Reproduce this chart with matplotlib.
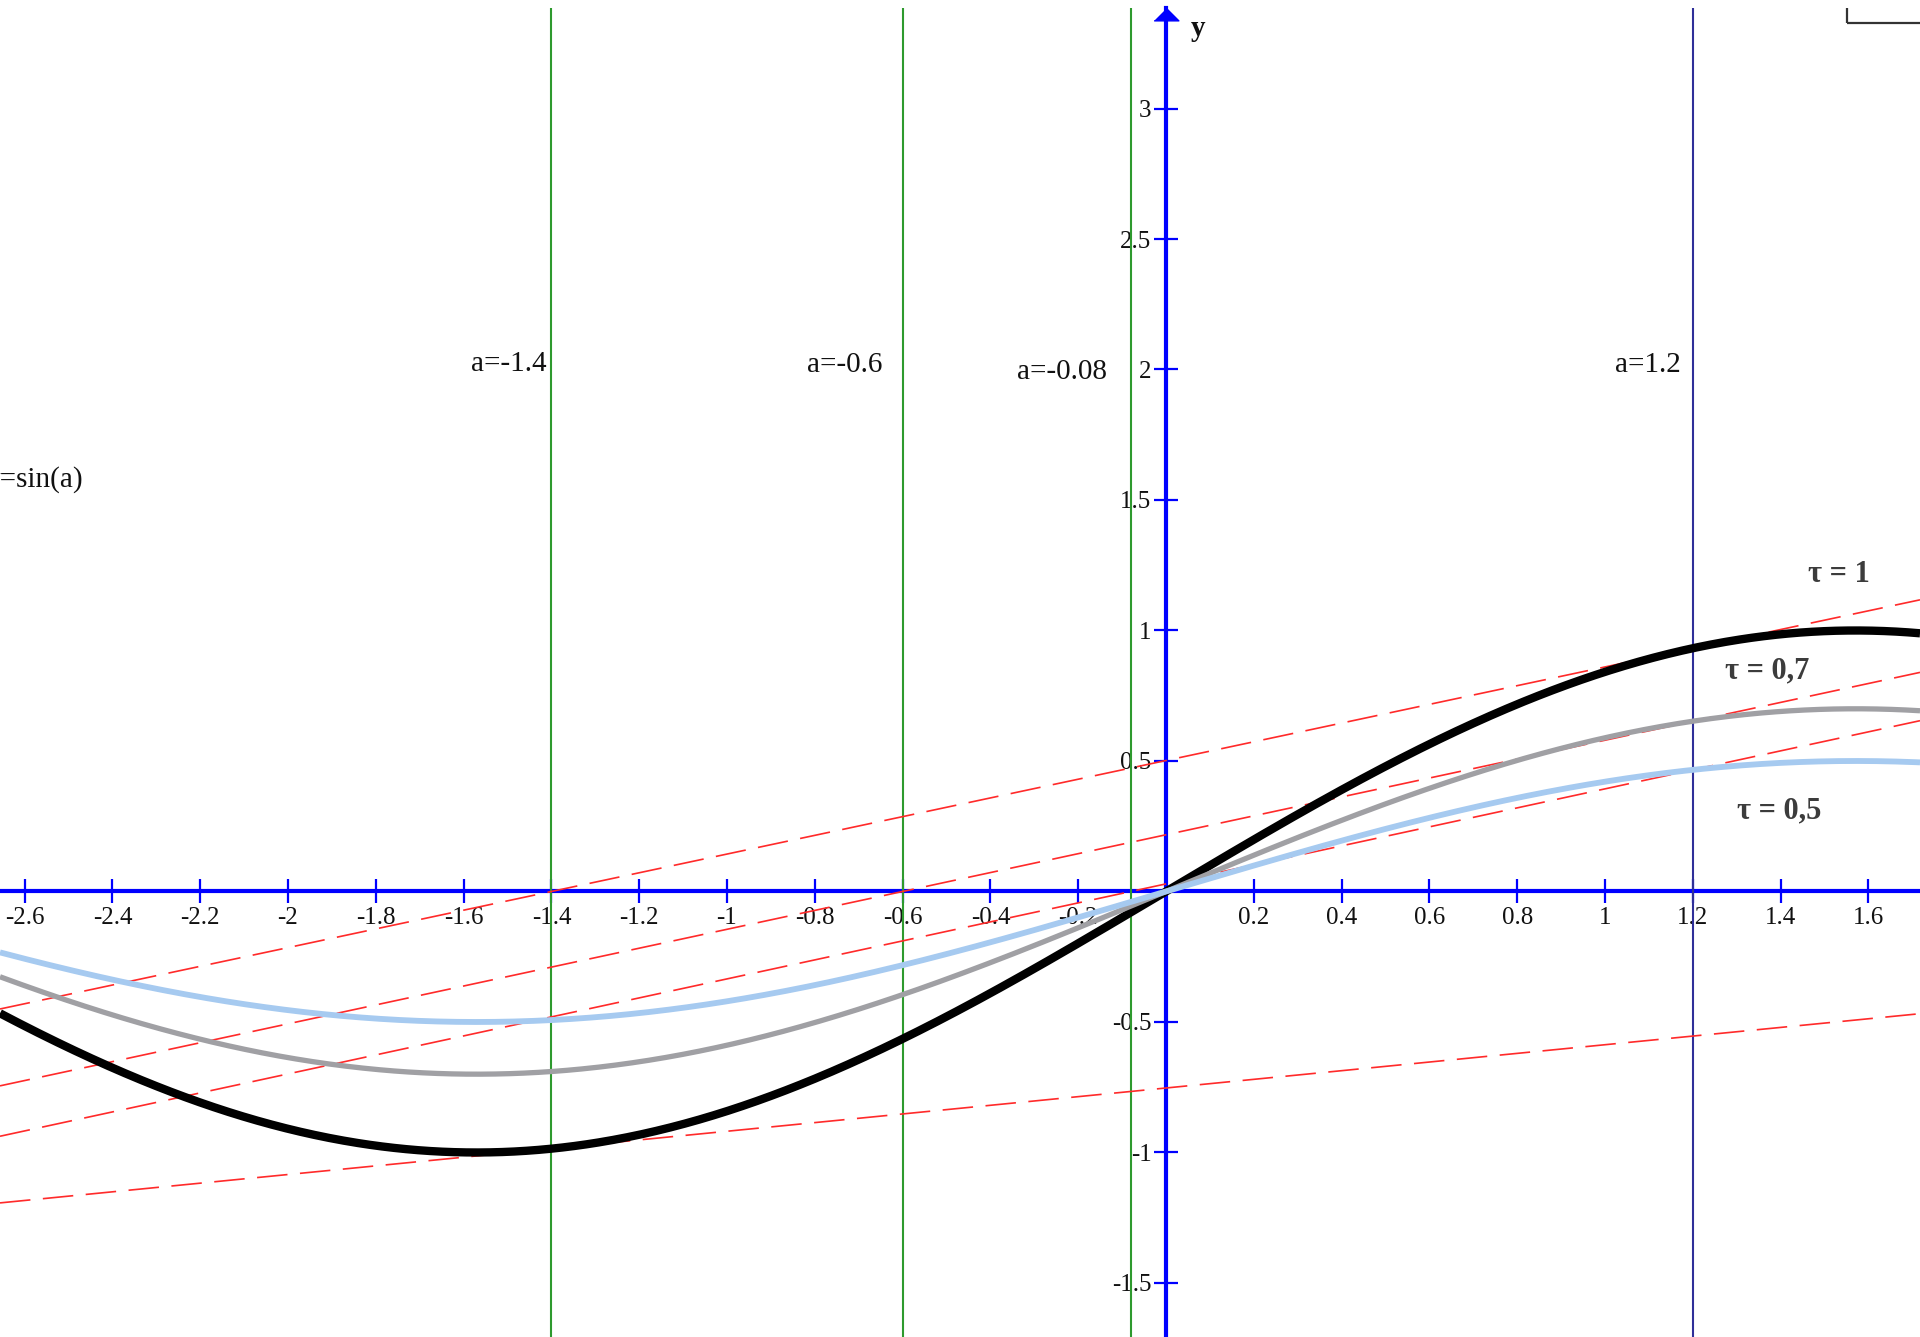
import numpy as np
import matplotlib
matplotlib.use("Agg")
import matplotlib.pyplot as plt
from matplotlib.ticker import FixedLocator, FixedFormatter
from matplotlib.patches import Rectangle

plt.rcParams["axes.unicode_minus"] = False
plt.rcParams["lines.scale_dashes"] = False
plt.rcParams["font.family"] = ["Liberation Serif", "DejaVu Serif"]

W, H, DPI = 1920, 1337, 100

# amplitudes of the curves b = tau * sin(a)
tau_values = [1.0, 0.7, 0.5]
tau_labels = ["τ = 1", "τ = 0,7", "τ = 0,5"]
tau_label_x = [1.462, 1.273, 1.301]
tau_label_y = [1.216, 0.845, 0.308]
curve_colors = ["#000000", "#a0a0a4", "#a6caf0"]
curve_widths = [6.0, 3.8, 4.2]

# vertical marker lines a = const
marker_a = [-1.4, -0.6, -0.08, 1.2]
marker_labels = ["a=-1.4", "a=-0.6", "a=-0.08", "a=1.2"]
marker_label_x = [-1.412, -0.645, -0.134, 1.173]
marker_label_y = [2.022, 2.017, 1.99, 2.017]
marker_colors = ["#2e9a2e", "#2e9a2e", "#2e9a2e", "#2f2f99"]

# red dashed reference lines, each through two points (a, b)
ref_p1 = [(-1.4, 0.0), (-0.6, 0.0), (-0.08, 0.0), (-1.4, -0.985)]
ref_p2 = [(1.2, 0.932), (1.2, 0.652), (1.2, 0.466), (1.2, -0.554)]

# axis ticks
x_ticks = [-2.6, -2.4, -2.2, -2.0, -1.8, -1.6, -1.4, -1.2, -1.0, -0.8, -0.6,
           -0.4, -0.2, 0.2, 0.4, 0.6, 0.8, 1.0, 1.2, 1.4, 1.6]
x_tick_labels = ["-2.6", "-2.4", "-2.2", "-2", "-1.8", "-1.6", "-1.4", "-1.2",
                 "-1", "-0.8", "-0.6", "-0.4", "-0.2", "0.2", "0.4", "0.6",
                 "0.8", "1", "1.2", "1.4", "1.6"]
y_ticks = [-1.5, -1.0, -0.5, 0.5, 1.0, 1.5, 2.0, 2.5, 3.0]
y_tick_labels = ["-1.5", "-1", "-0.5", "0.5", "1", "1.5", "2", "2.5", "3"]

x_range = (-2.656, 1.7175)
y_range = (-1.707, 3.387)

fig = plt.figure(figsize=(W / DPI, H / DPI), dpi=DPI)
ax = fig.add_axes([0, 0, 1, (H - 7.5) / H])
ax.set_xlim(*x_range)
ax.set_ylim(*y_range)

# coordinate cross through the origin
for side in ("top", "right"):
    ax.spines[side].set_visible(False)
for side in ("left", "bottom"):
    ax.spines[side].set_position("zero")
    ax.spines[side].set_color("#0000ff")
    ax.spines[side].set_linewidth(3.0)

ax.xaxis.set_major_locator(FixedLocator(x_ticks))
ax.xaxis.set_major_formatter(FixedFormatter(x_tick_labels))
ax.yaxis.set_major_locator(FixedLocator(y_ticks))
ax.yaxis.set_major_formatter(FixedFormatter(y_tick_labels))
ax.tick_params(axis="both", direction="inout", length=17, width=1.6,
               color="#0000ff", labelsize=18, labelcolor="#111111")
ax.tick_params(axis="x", pad=2.5)
ax.tick_params(axis="y", pad=2)

# arrow head of the y axis
ax.plot([0], [y_range[1]], marker=[(-1, -1), (1, -1), (0, 0)], ms=17.8,
        color="#0000ff", clip_on=False, zorder=3)
ax.text(0.073, 3.308, "y", fontsize=21, fontweight="bold", ha="center",
        va="center", color="#111111")

# vertical marker lines and their labels
for a, lab, lx, ly, c in zip(marker_a, marker_labels, marker_label_x,
                             marker_label_y, marker_colors):
    ax.axvline(a, color=c, lw=1.5, zorder=3)
    ax.text(lx, ly, lab, fontsize=21, ha="right", va="center", color="#111111")

# red dashed lines
for p1, p2 in zip(ref_p1, ref_p2):
    ax.axline(p1, p2, color="#ff2a2a", lw=1.2, dashes=(22, 9), zorder=3.5)

# sine curves
a_grid = np.linspace(x_range[0], x_range[1], 800)
for tau, c, lw in zip(tau_values, curve_colors, curve_widths):
    ax.plot(a_grid, tau * np.sin(a_grid), color=c, lw=lw, zorder=5,
            solid_capstyle="butt")

for lab, lx, ly in zip(tau_labels, tau_label_x, tau_label_y):
    ax.text(lx, ly, lab, fontsize=22, fontweight="bold", ha="left",
            va="center", color="#3c3c3c",
            family=["Liberation Serif", "DejaVu Serif"])

ax.text(-2.467, 1.577, "y=sin(a)", fontsize=21, ha="right", va="center",
        color="#111111")

# corner of a box reaching in at the top right
ax.add_patch(Rectangle((1.551, 3.329), 1.0, 1.0, fill=False,
                       edgecolor="#333333", lw=1.6, clip_on=True))

fig.savefig("out.png", dpi=DPI)
